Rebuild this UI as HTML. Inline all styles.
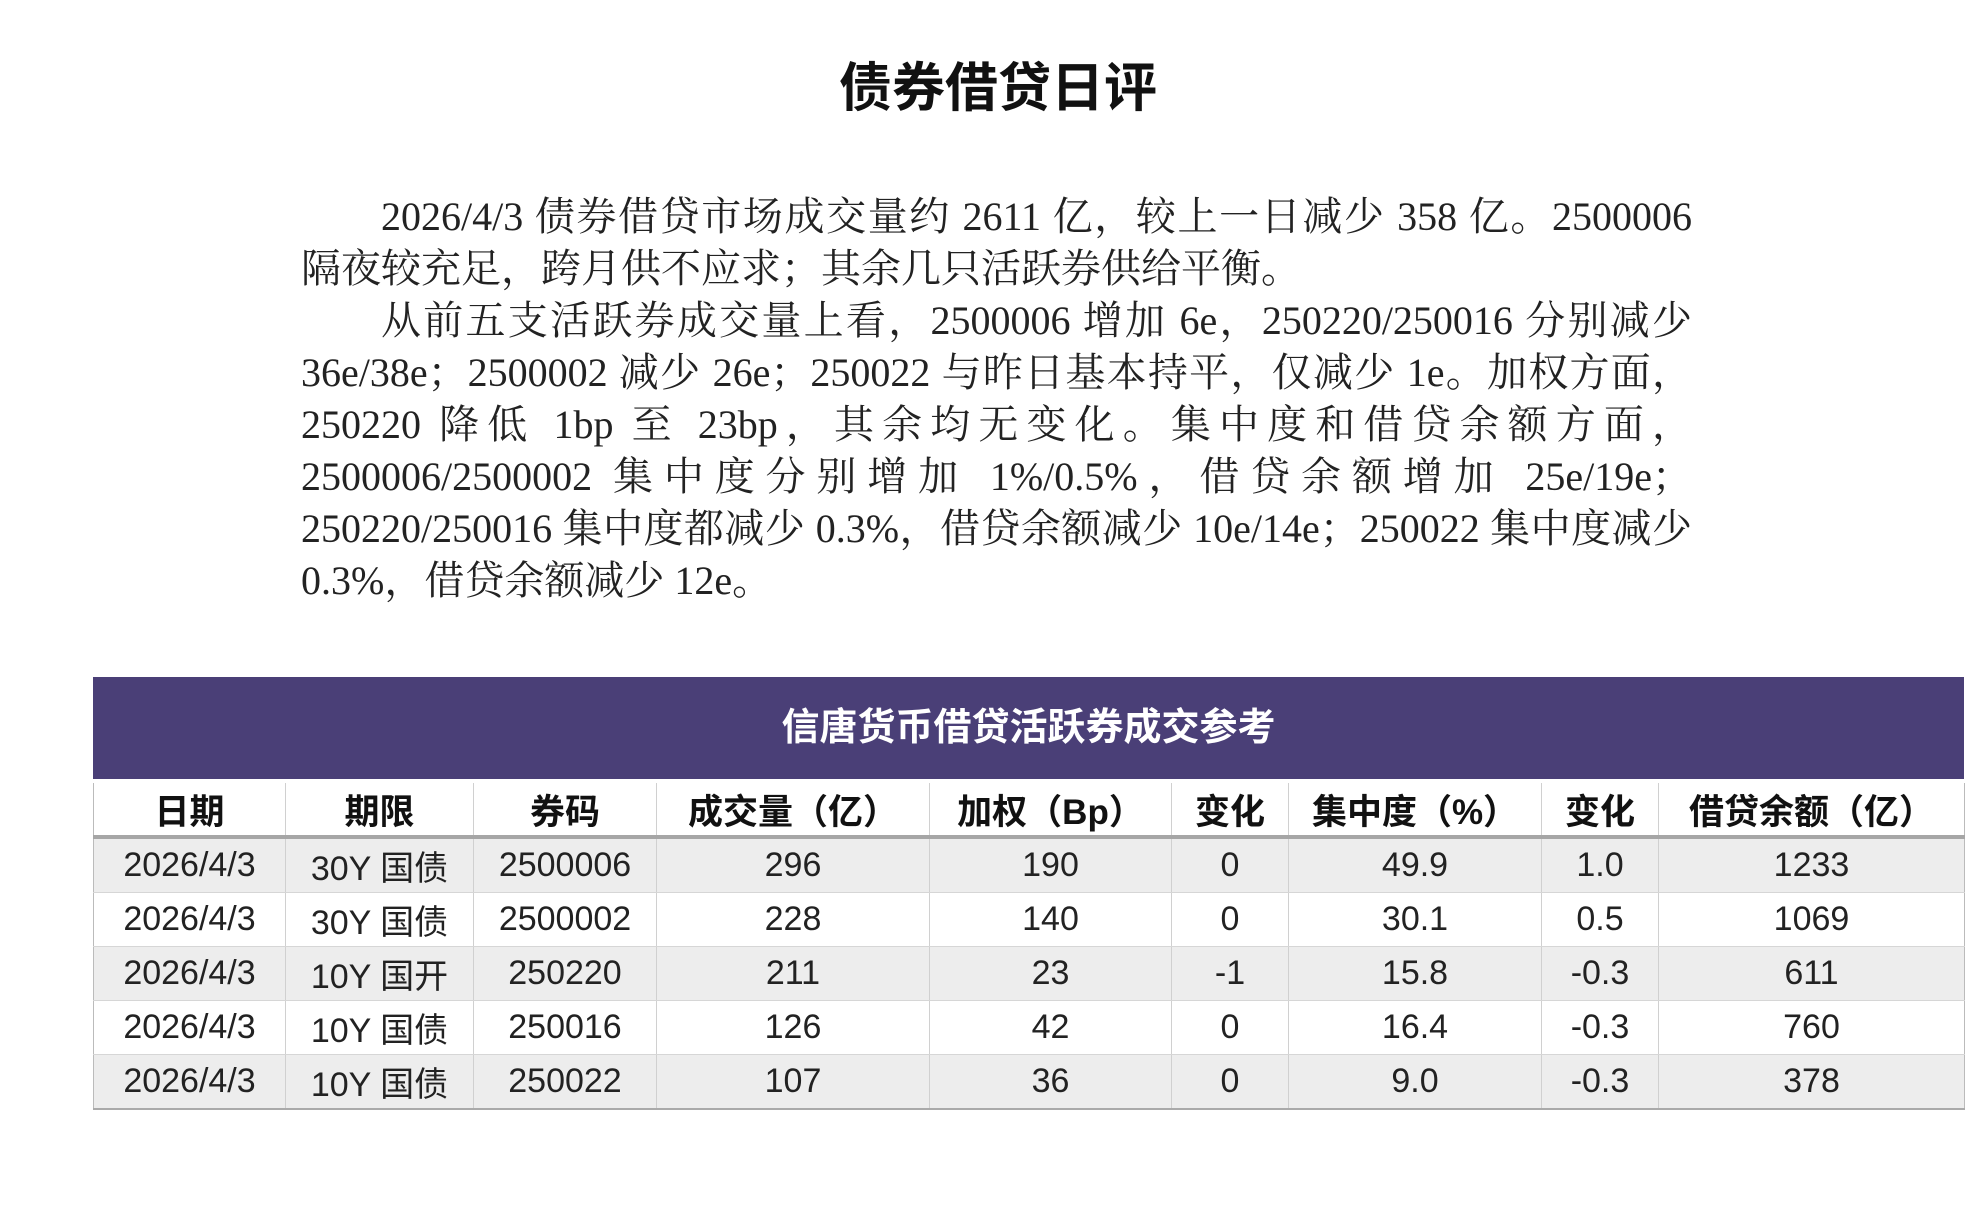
<!DOCTYPE html>
<html><head><meta charset="utf-8"><style>
html,body{margin:0;padding:0;background:#fff;width:1984px;height:1211px;overflow:hidden}
.title{position:absolute;left:0;width:1996px;top:46px;text-align:center;font:bold 53px "Liberation Sans","Noto Sans CJK SC",sans-serif;color:#111}
.para{position:absolute;left:301px;top:191px;width:1391px;font:40px/52px "Liberation Serif","Noto Serif CJK SC",serif;color:#222;text-align:justify;text-align-last:left}
.para p{margin:0;text-indent:80px}
.band{position:absolute;left:93px;top:677px;width:1871px;height:102px;background:#4a3f77;color:#fff;text-align:center;font:bold 38px/102px "Liberation Sans","Noto Sans CJK SC",sans-serif}
table{position:absolute;left:93px;top:783px;border-collapse:collapse;width:1871px;font-family:"Liberation Sans","Noto Sans CJK SC",sans-serif;table-layout:fixed}
th{height:52px;font-size:35px;font-weight:bold;color:#111;border-left:1px solid #d0d0d0;border-bottom:4px solid #a6a6a6;padding:0;background:#fff}
td{height:53px;font-size:34px;color:#222;text-align:center;border-left:1px solid #d0d0d0;border-bottom:1px solid #d6d6d6;padding:0}
tr.g td{background:#ededed}
tr:last-child td{border-bottom:2px solid #aaa}
th:first-child,td:first-child{border-left:1px solid #bbb}
th:last-child,td:last-child{border-right:1px solid #bbb}
</style></head><body>
<div class="title">债券借贷日评</div>
<div class="para">
<p>2026/4/3 债券借贷市场成交量约 2611 亿，较上一日减少 358 亿。2500006 隔夜较充足，跨月供不应求；其余几只活跃券供给平衡。</p>
<p>从前五支活跃券成交量上看，2500006 增加 6e，250220/250016 分别减少 36e/38e；2500002 减少 26e；250022 与昨日基本持平，仅减少 1e。加权方面，250220 降低 1bp 至 23bp，其余均无变化。集中度和借贷余额方面，2500006/2500002 集中度分别增加 1%/0.5%，借贷余额增加 25e/19e；250220/250016 集中度都减少 0.3%，借贷余额减少 10e/14e；250022 集中度减少 0.3%，借贷余额减少 12e。</p>
</div>
<div class="band">信唐货币借贷活跃券成交参考</div>
<table>
<colgroup><col style="width:192px"><col style="width:188px"><col style="width:183px"><col style="width:273px"><col style="width:242px"><col style="width:117px"><col style="width:253px"><col style="width:117px"><col style="width:306px"></colgroup>
<tr><th>日期</th><th>期限</th><th>券码</th><th>成交量（亿）</th><th>加权（Bp）</th><th>变化</th><th>集中度（%）</th><th>变化</th><th>借贷余额（亿）</th></tr>
<tr class="g"><td>2026/4/3</td><td>30Y 国债</td><td>2500006</td><td>296</td><td>190</td><td>0</td><td>49.9</td><td>1.0</td><td>1233</td></tr>
<tr><td>2026/4/3</td><td>30Y 国债</td><td>2500002</td><td>228</td><td>140</td><td>0</td><td>30.1</td><td>0.5</td><td>1069</td></tr>
<tr class="g"><td>2026/4/3</td><td>10Y 国开</td><td>250220</td><td>211</td><td>23</td><td>-1</td><td>15.8</td><td>-0.3</td><td>611</td></tr>
<tr><td>2026/4/3</td><td>10Y 国债</td><td>250016</td><td>126</td><td>42</td><td>0</td><td>16.4</td><td>-0.3</td><td>760</td></tr>
<tr class="g"><td>2026/4/3</td><td>10Y 国债</td><td>250022</td><td>107</td><td>36</td><td>0</td><td>9.0</td><td>-0.3</td><td>378</td></tr>
</table>
</body></html>
